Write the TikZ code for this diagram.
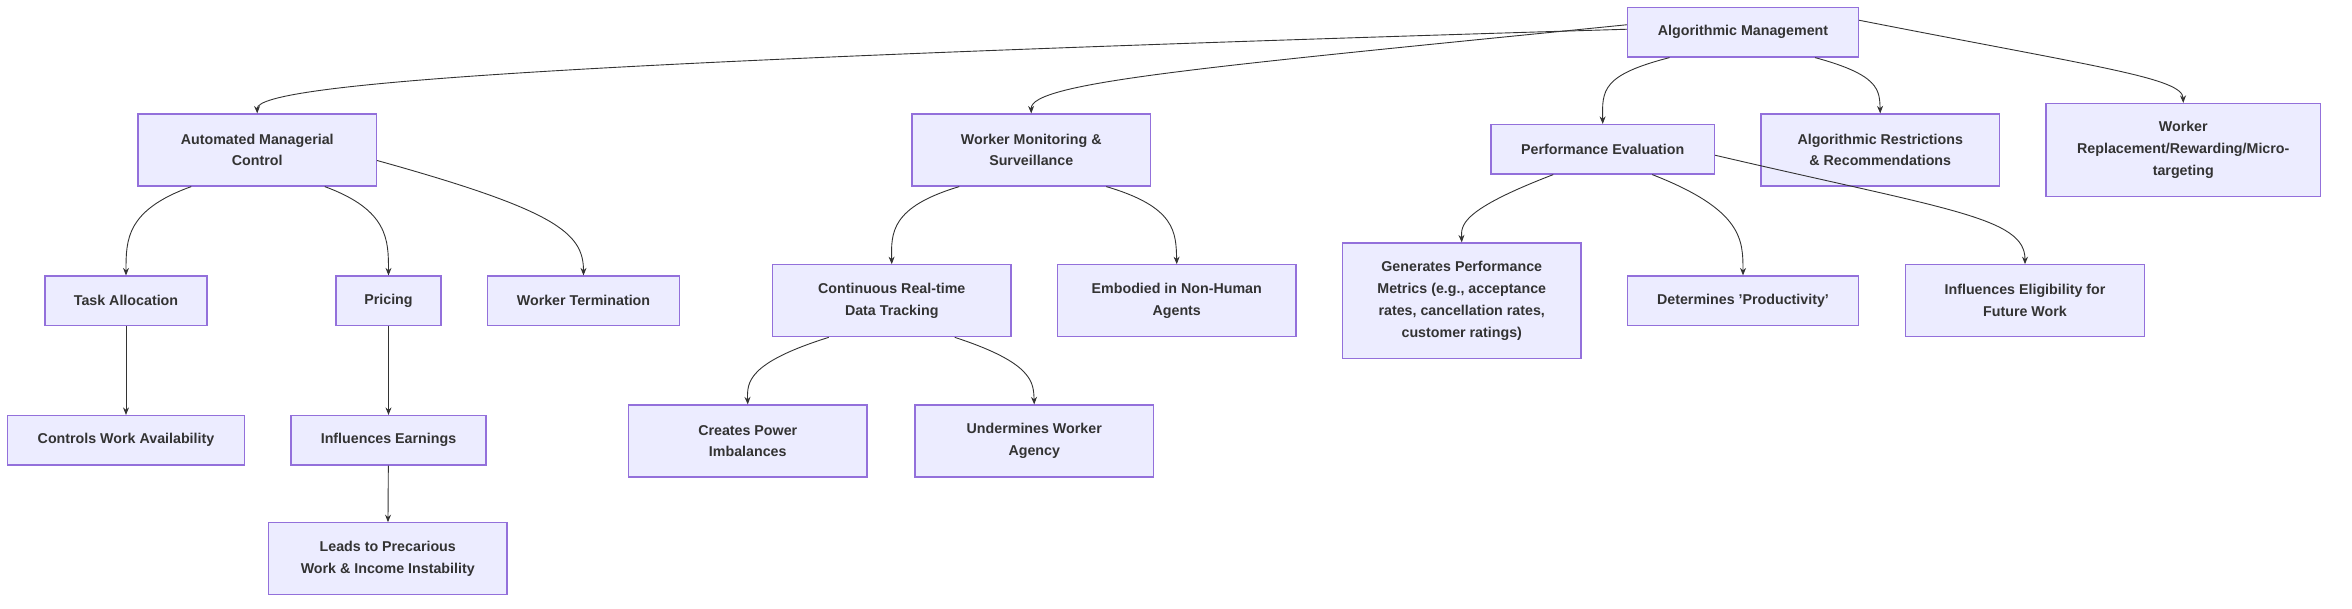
\documentclass[tikz,border=0pt]{standalone}
\usepackage{fontspec}
\setmainfont{Liberation Sans}
\usetikzlibrary{arrows.meta}
\definecolor{bfill}{HTML}{ECECFF}
\definecolor{bdraw}{HTML}{9370DB}
\definecolor{ink}{HTML}{333333}
\begin{document}
\begin{tikzpicture}[x=1pt,y=-1pt,
  box/.style={draw=bdraw,fill=bfill,line width=0.8pt,align=center,font=\fontsize{9.5}{14.5}\selectfont\bfseries,text=ink,inner sep=0pt},
  e/.style={draw=ink,line width=0.6pt,-{Stealth[length=5pt,width=4pt]}}]
\useasboundingbox (0,0) rectangle (1568,406);
\newcommand{\bx}[7]{\node[box,minimum width=#4pt,minimum height=#5pt] (#1) at (#2,#3) {#6};}
\bx{am}{1162}{21.5}{154}{33}{Algorithmic Management}{}
\bx{amc}{171.5}{100}{159}{48}{Automated Managerial\\Control}{}
\bx{wms}{687.5}{100}{159}{48}{Worker Monitoring \&\\Surveillance}{}
\bx{pe}{1068.5}{99.5}{149}{33}{Performance Evaluation}{}
\bx{arr}{1253.5}{100}{159}{48}{Algorithmic Restrictions\\\& Recommendations}{}
\bx{wr}{1455.5}{100}{183}{62}{Worker\\Replacement/Rewarding/Micro-\\targeting}{}
\bx{ta}{84}{200.5}{108}{33}{Task Allocation}{}
\bx{pr}{259}{200.5}{70}{33}{Pricing}{}
\bx{wt}{389}{200.5}{128}{33}{Worker Termination}{}
\bx{crt}{594.5}{200.5}{159}{48}{Continuous Real-time\\Data Tracking}{}
\bx{enh}{784.5}{200.5}{159}{48}{Embodied in Non-Human\\Agents}{}
\bx{gpm}{974.5}{200.5}{159}{77}{Generates Performance\\Metrics (e.g., acceptance\\rates, cancellation rates,\\customer ratings)}{}
\bx{dp}{1162}{200.5}{154}{33}{Determines 'Productivity'}{}
\bx{ief}{1350}{200.5}{159}{48}{Influences Eligibility for\\Future Work}{}
\bx{cwa}{84}{293.5}{158}{33}{Controls Work Availability}{}
\bx{ie}{259}{293.5}{130}{33}{Influences Earnings}{}
\bx{cpi}{498.5}{294}{159}{48}{Creates Power\\Imbalances}{}
\bx{uwa}{689.5}{294}{159}{48}{Undermines Worker\\Agency}{}
\bx{lpw}{258.5}{372.5}{159}{48}{Leads to Precarious\\Work \& Income Instability}{}
% edges
\draw[e] ([yshift=2pt]am.west) .. controls (400,40) and (171,55) .. (amc.north);
\draw[e] ([yshift=5pt]am.west) .. controls (800,45) and (687,55) .. (wms.north);
\draw[e] ([xshift=-49pt]am.south) .. controls (1068,50) and (1068,60) .. (pe.north);
\draw[e] ([xshift=48pt]am.south) .. controls (1253,50) and (1253,60) .. (arr.north);
\draw[e] ([yshift=8pt]am.east) .. controls (1400,45) and (1455,52) .. (wr.north);
\draw[e] ([xshift=-44pt]amc.south) .. controls (84,140) and (84,160) .. (ta.north);
\draw[e] ([xshift=45pt]amc.south) .. controls (259,140) and (259,160) .. (pr.north);
\draw[e] ([yshift=-7pt]amc.east) .. controls (370,140) and (389,155) .. (wt.north);
\draw[e] ([xshift=-48pt]wms.south) .. controls (594,138) and (594,155) .. (crt.north);
\draw[e] ([xshift=50pt]wms.south) .. controls (784,138) and (784,155) .. (enh.north);
\draw[e] ([xshift=-33pt]pe.south) .. controls (974,140) and (974,150) .. (gpm.north);
\draw[e] ([xshift=33pt]pe.south) .. controls (1162,140) and (1162,160) .. (dp.north);
\draw[e] ([yshift=-4pt]pe.east) .. controls (1300,140) and (1350,145) .. (ief.north);
\draw[e] (ta) -- (cwa);
\draw[e] (pr) -- (ie);
\draw[e] (ie) -- (lpw);
\draw[e] ([xshift=-42pt]crt.south) .. controls (498,242) and (498,255) .. (cpi.north);
\draw[e] ([xshift=42pt]crt.south) .. controls (689,242) and (689,255) .. (uwa.north);
\end{tikzpicture}
\end{document}
